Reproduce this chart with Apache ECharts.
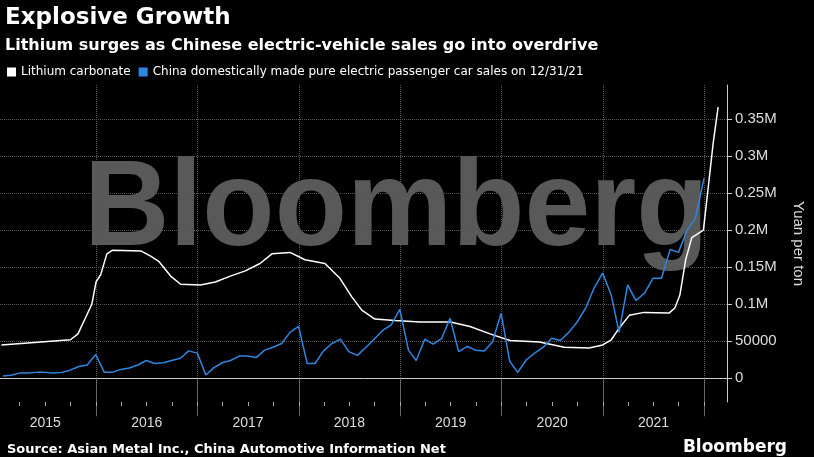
<!DOCTYPE html>
<html><head><meta charset="utf-8">
<script src="https://cdn.jsdelivr.net/npm/echarts@6/dist/echarts.min.js"></script>
<style>html,body{margin:0;background:#000}#c{width:814px;height:457px}</style>
</head><body><div id="c"></div>
<script>
const lithiumDates = ['2015-01-25','2015-05-12','2015-10-01','2015-10-28','2015-11-22','2015-12-17','2016-01-01','2016-01-18','2016-02-09','2016-03-01','2016-06-10','2016-07-16','2016-08-14','2016-09-26','2016-11-01','2017-01-11','2017-03-06','2017-04-29','2017-06-22','2017-08-14','2017-09-26','2017-11-30','2018-01-23','2018-04-05','2018-05-29','2018-07-11','2018-08-16','2018-10-02','2018-12-13','2019-03-14','2019-07-01','2019-09-10','2019-11-21','2020-02-01','2020-05-17','2020-08-15','2020-11-12','2020-12-31','2021-01-31','2021-03-01','2021-04-06','2021-05-29','2021-08-27','2021-09-17','2021-10-05','2021-10-26','2021-11-17','2021-12-29','2022-01-16','2022-02-03','2022-02-20'];
const lithiumValues = [45000,48000,52000,60000,80000,100000,130000,140000,168000,173000,172000,165000,158000,138000,127000,126000,130000,138000,145000,155000,168000,170000,160000,155000,135000,110000,92000,80000,78000,76000,76000,70000,60000,51000,49000,42000,41000,45000,52000,68000,85000,89000,88000,95000,112000,160000,190000,200000,260000,320000,366000];
const salesMonths = [];
for (let y = 2015; y <= 2021; y++) for (let m = 1; m <= 12; m++) salesMonths.push(new Date(Date.UTC(y, m, 0)).toISOString().slice(0,10));
const salesValues = [3000,4000,7000,7000,8000,8000,7000,8000,11000,16000,18000,32000,
 8000,8000,12000,14000,18000,24000,20000,21000,24000,27000,37000,34000,
 4500,14000,21000,24000,30000,30000,28000,38000,42000,47000,62000,70000,
 20000,20000,37000,47000,53000,36000,31000,42000,53000,65000,72000,93000,
 38000,24000,53000,46000,54000,81000,36000,43000,38000,37000,49000,88000,
 23000,8000,25000,34000,42000,54000,51000,62000,76000,95000,122000,142000,
 112000,62000,126000,105000,115000,135000,135000,174000,170000,200000,216000,270000];
const yTicks = [0,50000,100000,150000,200000,250000,300000,350000];
const yearLabels = [2015,2016,2017,2018,2019,2020,2021];
const t = d => Date.parse(d);
const yearBounds = [2015,2016,2017,2018,2019,2020,2021,2022].map(y=>t(y+'-01-01'));
const monthTicks = [];
for (let y = 2015; y <= 2022; y++) for (let m = 1; m <= 12; m += 3) { const v = t(y+'-'+String(m).padStart(2,'0')+'-01'); if (v > t('2015-01-20') && v < t('2022-03-24')) monthTicks.push(v); }
const yearMids = yearLabels.map(y=>t(y+'-07-02'));

const chart = echarts.init(document.getElementById('c'));
chart.setOption({
  backgroundColor:'#000',
  animation:false,
  title:[
    {text:'Explosive Growth',left:0,top:2,textStyle:{color:'#fff',fontSize:23,fontWeight:'bold',fontFamily:'DejaVu Sans'}},
    {text:'Lithium surges as Chinese electric-vehicle sales go into overdrive',left:0,top:33,textStyle:{color:'#fff',fontSize:16,fontWeight:'bold',fontFamily:'DejaVu Sans'}},
    {text:'Source: Asian Metal Inc., China Automotive Information Net',left:2,top:438,textStyle:{color:'#fff',fontSize:13,fontWeight:'bold',fontFamily:'DejaVu Sans'}},
    {text:'Bloomberg',right:22,top:434,textStyle:{color:'#fff',fontSize:17,fontWeight:'bold',fontFamily:'DejaVu Sans'}}
  ],
  legend:{left:2,top:61,itemWidth:9,itemHeight:9,itemGap:8,icon:'rect',
    textStyle:{color:'#fff',fontSize:12,fontFamily:'DejaVu Sans'},
    data:['Lithium carbonate','China domestically made pure electric passenger car sales on 12/31/21']},
  graphic:[{type:'text',left:84,top:150,z:0,silent:true,scaleX:0.97,
    style:{text:'Bloomberg',fill:'#595959',font:'bold 122px "Liberation Sans"'}}],
  grid:{left:0,right:77,top:85,bottom:55},
  xAxis:[{type:'value',min:t('2015-01-20'),max:t('2022-03-24'),
    axisLine:{lineStyle:{color:'#ccc'}},
    axisTick:{customValues:yearBounds,length:38,lineStyle:{color:'#666'}},
    splitLine:{show:true,lineStyle:{color:'#555',type:'dotted'}},
    axisLabel:{customValues:yearMids,formatter:v=>String(new Date(v).getUTCFullYear()),color:'#ddd',fontSize:14,margin:14}},
   {type:'value',position:'bottom',min:t('2015-01-20'),max:t('2022-03-24'),
    axisLine:{show:false},splitLine:{show:false},axisLabel:{show:false},
    axisTick:{show:true,customValues:monthTicks,length:4,lineStyle:{color:'#aaa'}}}],
  yAxis:{type:'value',position:'right',min:-32000,max:396000,
    axisLine:{show:true,lineStyle:{color:'#ccc'}},
    axisTick:{show:true,customValues:yTicks,lineStyle:{color:'#ccc'}},
    splitLine:{show:true,lineStyle:{color:'#555',type:'dotted'}},
    axisLabel:{customValues:yTicks,color:'#ddd',fontSize:15,margin:8,
      formatter:v=>v===0?'0':(v===50000?'50000':(v/1e6)+'M')},
    name:'Yuan per ton',nameLocation:'middle',nameRotate:-90,nameGap:64,
    nameTextStyle:{color:'#ddd',fontSize:15}},
  series:[
    {name:'Lithium carbonate',type:'line',symbol:'none',z:3,
      itemStyle:{color:'#fff'},lineStyle:{color:'#fff',width:1.5},
      data:lithiumDates.map((d,i)=>[t(d),lithiumValues[i]])},
    {name:'China domestically made pure electric passenger car sales on 12/31/21',type:'line',symbol:'none',z:4,
      itemStyle:{color:'#2f86e0'},lineStyle:{color:'#2f86e0',width:1.5},
      data:salesMonths.map((d,i)=>[t(d),salesValues[i]])}
  ]
});
</script></body></html>
